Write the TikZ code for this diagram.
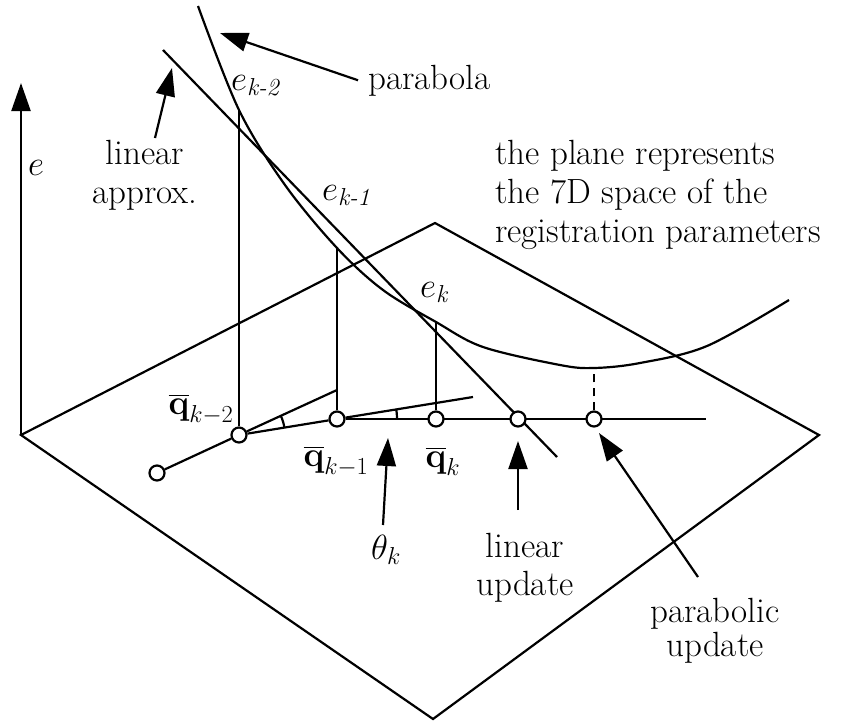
\RequirePackage{fix-cm}
\documentclass[tikz,border=0pt]{standalone}
\usepackage{amsmath}
\usetikzlibrary{arrows.meta}
\pgfdeclarelayer{bg}
\pgfsetlayers{bg,main}
\begin{document}
\begin{tikzpicture}[x=1pt,y=-1pt,line width=2.2pt,
  arr/.style={line width=2.2pt,-{Triangle[length=28pt,width=19pt]}},
  dot/.style={circle,draw,line width=2.2pt,fill=white,inner sep=0pt,minimum size=15pt},
  lbl/.style={font=\fontsize{35}{39}\selectfont,inner sep=0pt},
  ]
\useasboundingbox (0,0) rectangle (856,720);
% plane corners
\coordinate (pl) at (21,435);
\coordinate (ptop) at (435,223);
\coordinate (pr) at (819,435);
\coordinate (pb) at (433,719);
% sample points
\node[dot] (q0) at (157,473) {};
\node[dot] (q1) at (239,435) {};
\node[dot] (q2) at (337,419) {};
\node[dot] (q3) at (436,419) {};
\node[dot] (lu) at (518,419) {};
\node[dot] (pu) at (594,419) {};
% error values on the curve
\coordinate (e2) at (239,110);
\coordinate (e1) at (337,248);
\coordinate (e0) at (436,322);
\coordinate (pmin) at (594,368);
\coordinate (p2) at (337,390);
\coordinate (p3) at (473,397);
\coordinate (hend) at (706,419);
\coordinate (la1) at (163,50);
\coordinate (la2) at (557,457);

\begin{pgfonlayer}{bg}
\begin{scope}[line width=2.2pt]
  \draw[line join=miter] (pl) -- (ptop) -- (pr) -- (pb) -- cycle;
  \draw plot[smooth,tension=0.55] coordinates {(198,6) (239,110) (285,185) (337,248) (383,290) (436,322) (483,347) (560,365) (594,368) (640,363) (707,346) (789,300)};
  \draw (la1) -- (la2);
  \draw (q0) -- (q1) -- (q2);
  \draw (q1) -- (p2);
  \draw (q2) -- (p3);
  \draw (q2) -- (hend);
  \draw (q1) -- (e2);
  \draw (q2) -- (e1);
  \draw (q3) -- (e0);
  \draw[dash pattern=on 8pt off 6pt] (pu) -- (pmin);
  \draw plot[domain=9.3:24.7,samples=12] ({239+46*cos(\x)},{435-46*sin(\x)});
  \draw plot[domain=0:9.2,samples=8] ({337+60*cos(\x)},{419-60*sin(\x)});
\end{scope}
\end{pgfonlayer}

% labels
\node[lbl,anchor=base west] (elab) at (28,175) {$e$};
\node[lbl,anchor=north,align=center] (lalbl) at (145,140) {linear\\approx.};
\node[lbl,anchor=base west] (parlbl) at (368,89) {parabola};
\node[lbl,anchor=base west] (ek2) at (231,90) {$e_{\text{\itshape k-2}}$};
\node[lbl,anchor=base west] (ek1) at (322,200) {$e_{\text{\itshape k-1}}$};
\node[lbl,anchor=base west] (ek0) at (420,297) {$e_{\text{\itshape k}}$};
\node[lbl,anchor=north west,align=left] (plane) at (495,140) {the plane represents\\the 7D space of the\\registration parameters};
\node[lbl] (qk2) at (201,409) {$\overline{\mathbf{q}}_{k-2}$};
\node[lbl] (qk1) at (336,461) {$\overline{\mathbf{q}}_{k-1}$};
\node[lbl] (qk0) at (443,461) {$\overline{\mathbf{q}}_{k}$};
\node[lbl] (th) at (386,550) {$\theta_k$};
\node[lbl,anchor=north,align=center,font=\fontsize{35}{38}\selectfont] (lulbl) at (525,533) {linear\\update};
\node[lbl,anchor=north,align=center,font=\fontsize{35}{34}\selectfont] (pulbl) at (715,598) {parabolic\\update};

% arrows
\coordinate (etip) at (21,83);
\coordinate (ptip) at (220,33);
\coordinate (latip) at (172,68);
\coordinate (latail) at (155,138);
\coordinate (thtip) at (388,438);
\coordinate (thtail) at (383,525);
\coordinate (lutip) at (518,441);
\coordinate (lutail) at (518,510);
\coordinate (putip) at (599,433);
\coordinate (putail) at (698,577);
\draw[arr] (pl) -- (etip);
\draw[arr] ([xshift=-10pt]parlbl.west) -- (ptip);
\draw[arr] (latail) -- (latip);
\draw[arr] (thtail) -- (thtip);
\draw[arr] (lutail) -- (lutip);
\draw[arr] (putail) -- (putip);
\end{tikzpicture}
\end{document}
